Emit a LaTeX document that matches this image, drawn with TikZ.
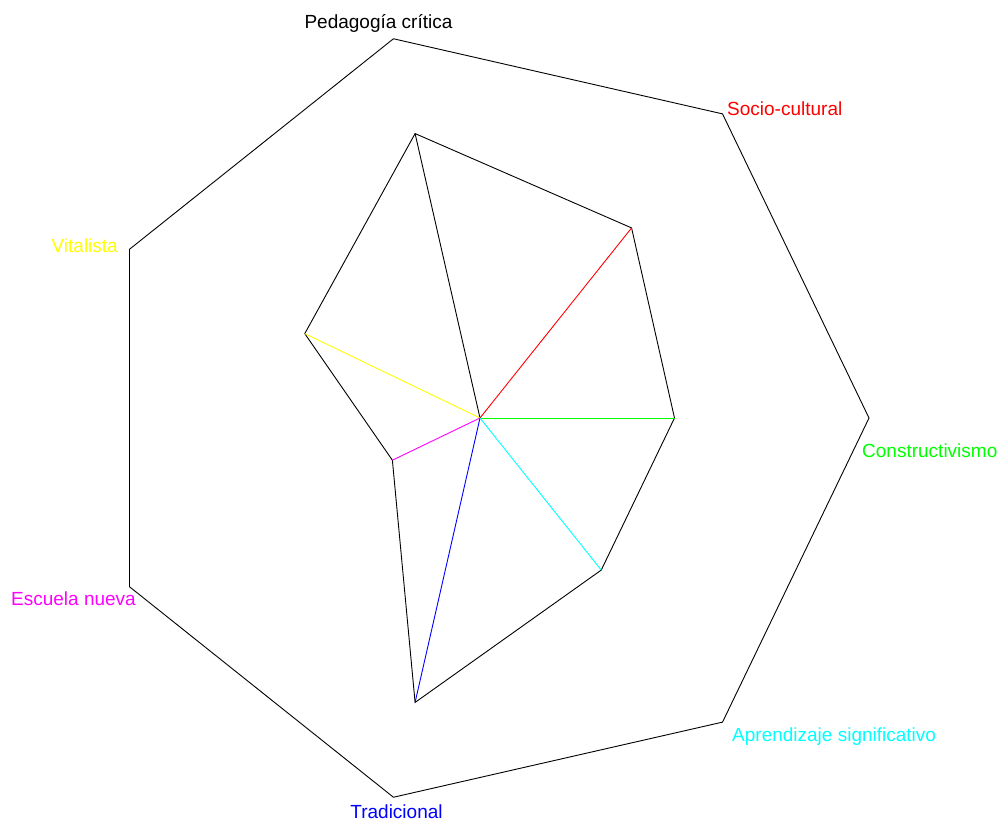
\documentclass[tikz,border=0pt]{standalone}
\usepackage{fontspec}
\setmainfont{Liberation Sans}
\usetikzlibrary{calc}
\definecolor{cgreen}{RGB}{0,255,0}
\definecolor{ccyan}{RGB}{0,255,255}
\definecolor{cyellow}{RGB}{255,255,0}
\definecolor{cmag}{RGB}{255,0,255}
\begin{document}
\begin{tikzpicture}[x=1pt,y=-1pt,
  frame/.style={draw=black,line width=0.9pt,line join=miter},
  spoke/.style={line width=0.9pt},
  lab/.style={font=\fontsize{19}{22}\selectfont,inner sep=0pt}]
\useasboundingbox (0,0) rectangle (1001,824);
\coordinate (O) at (480,418);
% outer heptagon vertices and inner data points
\foreach \k/\f in {0/0.5,1/0.625,2/0.75,3/0.5,4/0.25,5/0.75,6/0.5}{
  \pgfmathsetmacro{\a}{\k*360/7}
  \path (O) ++({389*cos(\a)},{-389*sin(\a)}) coordinate (V\k);
  \path (O) ++({389*\f*cos(\a)},{-389*\f*sin(\a)}) coordinate (D\k);
}
\draw[frame] (V0)--(V1)--(V2)--(V3)--(V4)--(V5)--(V6)--cycle;
\draw[frame] (D0)--(D1)--(D2)--(D3)--(D4)--(D5)--(D6)--cycle;
\draw[spoke,cgreen] (O)--(D0);
\draw[spoke,red] (O)--(D1);
\draw[spoke,black] (O)--(D2);
\draw[spoke,cyellow] (O)--(D3);
\draw[spoke,cmag] (O)--(D4);
\draw[spoke,blue] (O)--(D5);
\draw[spoke,ccyan] (O)--(D6);
% labels
\node[lab,anchor=base,text=black] (l2) at (378.5,29) {Pedagogía crítica};
\node[lab,anchor=base west,text=red] (l1) at (727,116) {Socio-cultural};
\node[lab,anchor=base west,text=cgreen] (l0) at (862,457) {Constructivismo};
\node[lab,anchor=base west,text=ccyan] (l6) at (732,741) {Aprendizaje significativo};
\node[lab,anchor=base,text=blue] (l5) at (396.5,818) {Tradicional};
\node[lab,anchor=base east,text=cmag] (l4) at (136,605) {Escuela nueva};
\node[lab,anchor=base east,text=cyellow] (l3) at (118,252) {Vitalista};
\end{tikzpicture}
\end{document}
